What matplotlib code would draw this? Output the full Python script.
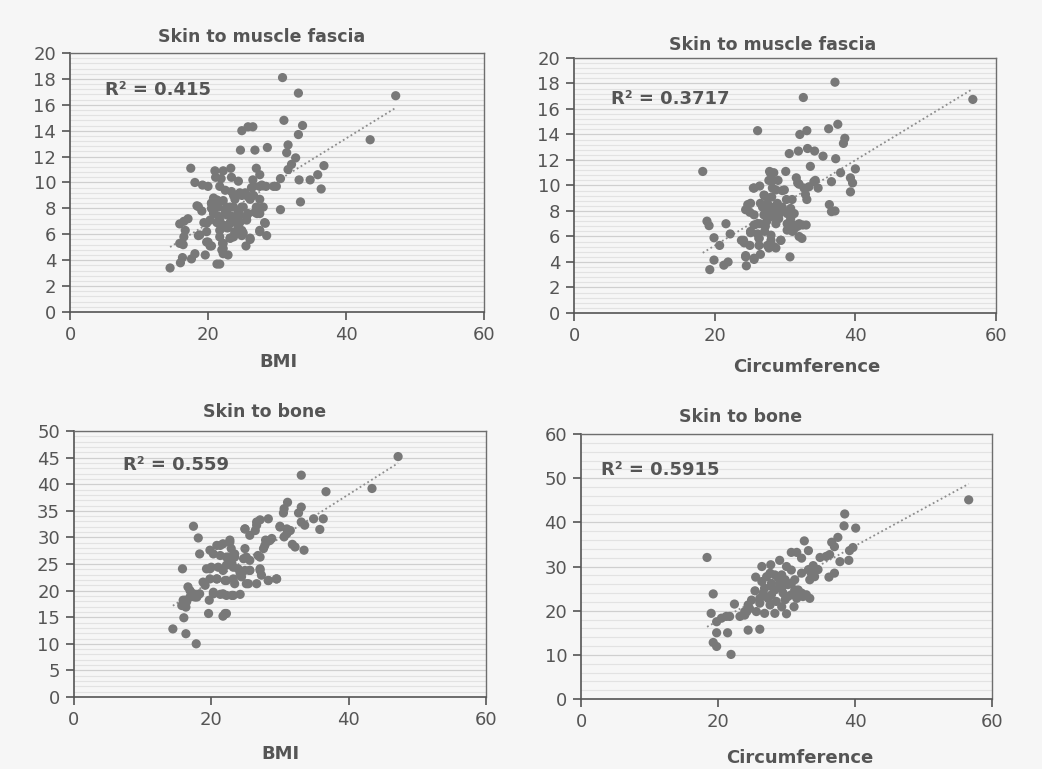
import numpy as np
import matplotlib.pyplot as plt
from matplotlib.ticker import MultipleLocator

# Skin to muscle fascia vs BMI
bmi_fascia_x = [30.8, 33.1, 47.2, 31.0, 33.7, 24.9, 25.8, 26.5, 33.1, 43.5, 24.7, 26.8, 28.6, 31.6, 31.4,
                32.7, 32.1, 31.6, 36.8, 35.9, 36.4, 34.8, 33.2, 33.4, 30.5, 30.5, 29.9, 29.5, 17.5, 18.1,
                19.2, 20.0, 21.0, 22.2, 23.3, 21.1, 23.4, 24.4, 27.0, 27.5, 26.5, 26.6, 27.5, 28.4, 21.7,
                22.5, 23.4, 24.6, 25.4, 26.0, 18.4, 19.1, 20.5, 21.5, 22.2, 22.9, 23.9, 24.9, 26.1, 27.0,
                28.0, 27.5, 26.8, 20.8, 21.5, 22.7, 23.4, 24.4, 25.6, 15.9, 16.5, 17.1, 19.4, 20.3, 21.3,
                22.2, 23.4, 24.6, 25.6, 16.7, 18.6, 19.8, 21.7, 22.7, 24.4, 25.1, 27.5, 28.2, 28.5, 16.5,
                15.9, 16.4, 19.8, 20.3, 21.7, 23.2, 23.7, 24.9, 26.1, 25.5, 22.2, 22.1, 14.5, 16.0, 16.3,
                17.6, 18.1, 19.6, 21.3, 21.7, 22.9, 22.2, 20.5, 20.8, 22.7, 23.7, 24.6, 25.8, 22.9, 23.9,
                26.6, 27.5, 21.9,
                20.8, 21.7, 22.5, 23.2, 23.7, 24.9, 25.8, 25.1, 25.6, 24.4, 23.2, 22.2, 23.9, 23.2, 24.9,
                26.1, 19.8, 18.8, 20.0, 20.5, 22.2, 22.0, 27.5, 27.1, 27.5, 28.3, 21.3, 20.5, 18.6, 26.3,
                27.8]
bmi_fascia_y = [18.1, 16.9, 16.7, 14.8, 14.4, 14.0, 14.3, 14.3, 13.7, 13.3, 12.5, 12.5, 12.7, 12.9, 12.3,
                11.9, 11.4, 11.0, 11.3, 10.6, 9.5, 10.2, 10.2, 8.5, 7.9, 10.3, 9.7, 9.7, 11.1, 10.0,
                9.8, 9.7, 10.9, 10.9, 11.1, 10.4, 10.4, 10.1, 11.1, 10.6, 10.2, 9.7, 9.7, 9.7, 9.7,
                9.4, 9.3, 9.2, 9.2, 8.9, 8.2, 7.8, 8.4, 8.1, 8.6, 8.0, 8.7, 8.1, 8.7, 8.1,
                8.1, 7.6, 7.7, 7.6, 7.4, 7.5, 7.4, 7.7, 7.4, 6.8, 7.0, 7.2, 6.9, 7.1, 6.9,
                6.7, 6.9, 6.9, 7.1, 6.3, 5.9, 6.2, 6.3, 6.5, 6.6, 6.1, 6.3, 6.9, 5.9, 5.8,
                5.3, 5.2, 5.4, 5.1, 5.8, 5.7, 5.8, 5.9, 5.6, 5.1, 4.9, 5.3, 3.4, 3.8, 4.2,
                4.1, 4.5, 4.4, 3.7, 3.7, 4.4, 4.5, 8.0, 8.8, 8.1, 8.1, 7.5, 7.6, 6.5, 6.2,
                9.0, 8.7, 10.3,
                7.75, 7.1, 7.75, 8.1, 9.0, 9.0, 8.9, 8.1, 7.4, 7.1, 6.9, 6.7, 6.1, 5.7, 6.3,
                5.7, 6.85, 5.95, 5.4, 5.1, 5.3, 4.8, 8.0, 7.6, 6.2, 6.85, 8.65, 8.4, 8.14, 9.6,
                9.8]

# Skin to muscle fascia vs circumference
circ_fascia_x = [37.1, 32.6, 56.7, 26.1, 32.1, 33.1, 36.2, 37.5, 38.5, 38.3, 30.6, 31.9, 33.2, 34.2, 35.4,
                 37.2, 33.6, 18.3, 27.8, 28.4, 30.1, 40.0, 37.9, 39.3, 39.6, 39.3, 36.6, 34.3, 31.6, 32.0,
                 33.4, 34.7, 32.9, 33.1, 27.7, 29.0, 25.5, 26.4, 28.2, 29.6, 27.1, 28.1, 30.2, 31.0, 24.7,
                 36.3, 36.6, 37.1, 24.4, 25.0, 25.6, 26.8, 27.6, 28.4, 29.6, 30.8, 27.0, 28.2, 29.2, 30.3,
                 18.9, 19.2, 21.6, 25.6, 26.4, 27.4, 28.7, 30.3, 31.3, 32.0, 33.0, 25.1, 27.1, 28.0, 30.3,
                 31.3, 32.4, 22.2, 19.9, 23.8, 26.3, 28.0, 29.4, 20.7, 24.2, 25.0, 26.3, 27.7, 28.7, 24.4,
                 25.6, 26.5, 30.7, 19.9, 19.3, 21.3, 21.9, 24.5, 27.5, 28.9, 30.8, 31.8, 26.1,
                 27.95, 28.2, 25.6, 27.0, 28.7, 29.9, 25.1, 26.5, 27.2, 28.4, 29.6, 27.95, 29.1, 26.05, 27.2,
                 30.6, 31.5, 32.5, 31.05, 32.0, 25.1, 24.1, 26.3, 27.5, 28.4, 29.4, 24.4, 25.6, 31.8, 32.7,
                 34.1, 31.3]
circ_fascia_y = [18.1, 16.9, 16.75, 14.3, 14.0, 14.3, 14.45, 14.8, 13.7, 13.3, 12.5, 12.7, 12.9, 12.7, 12.3,
                 12.1, 11.5, 11.1, 11.1, 11.0, 11.1, 11.3, 11.0, 10.6, 10.2, 9.5, 10.3, 10.4, 10.6, 10.1,
                 9.9, 9.8, 9.3, 8.9, 10.4, 10.4, 9.8, 9.96, 9.8, 9.6, 9.2, 9.1, 8.9, 8.9, 8.5,
                 8.5, 7.95, 8.0, 8.1, 7.9, 7.7, 8.3, 8.1, 8.2, 8.3, 8.2, 7.7, 7.6, 7.8, 7.8,
                 7.2, 6.85, 7.0, 6.9, 7.0, 7.2, 7.0, 7.0, 6.9, 7.0, 6.9, 6.3, 6.4, 6.1, 6.5,
                 6.6, 5.85, 6.2, 5.9, 5.7, 5.85, 5.7, 5.7, 5.3, 5.5, 5.3, 5.3, 5.1, 5.1, 4.5,
                 4.2, 4.6, 4.4, 4.15, 3.4, 3.75, 4.0, 3.7, 8.6, 8.6, 7.4, 6.8, 6.2,
                 10.96, 10.4, 9.8, 9.25, 9.65, 9.65, 8.6, 8.6, 8.1, 8.3, 8.1, 7.55, 7.4, 7.0, 6.8,
                 7.0, 6.8, 6.9, 6.4, 6.0, 6.4, 5.7, 5.85, 5.3, 5.2, 5.7, 4.4, 4.3, 10.2, 9.8,
                 10.3, 7.8]

# Skin to bone vs BMI
bmi_bone_x = [47.2, 33.1, 43.4, 36.7, 31.1, 30.6, 30.5, 33.1, 32.7, 34.9, 36.3, 35.8, 33.5, 33.6, 33.1,
              31.5, 31.0, 30.0, 30.6, 31.8, 32.2, 26.6, 27.1, 28.3, 24.9, 26.4, 25.6, 27.9, 28.8, 27.6,
              27.1, 17.4, 18.1, 18.3, 19.8, 20.8, 21.7, 22.7, 22.9, 24.9, 21.3, 22.5, 23.4, 24.7, 25.6,
              19.3, 20.0, 21.0, 22.2, 23.0, 23.9, 24.9, 25.6, 27.1, 15.8, 18.8, 19.8, 20.8, 22.0, 23.2,
              24.4, 25.4, 26.6, 27.3, 28.3, 29.5, 16.6, 17.4, 18.3, 20.3, 21.3, 22.2, 23.0, 24.2, 15.9,
              16.4, 16.9, 17.9, 19.7, 15.7, 16.3, 19.6, 21.7, 22.2, 16.0, 14.4, 16.3, 17.8,
              24.9, 26.6, 21.3, 22.7, 20.3, 22.2, 23.4, 25.1, 26.8, 27.8, 28.5, 30.0, 31.0, 19.8, 21.7,
              23.2, 24.2, 25.6, 27.1, 20.8, 22.2, 23.4, 25.1, 28.3, 29.5, 20.3, 21.7, 23.2, 16.9, 16.2,
              17.6, 19.1, 22.0]
bmi_bone_y = [45.2, 41.7, 39.2, 38.6, 36.6, 35.4, 34.6, 35.7, 34.6, 33.5, 33.5, 31.5, 27.6, 32.3, 32.9,
              31.3, 31.6, 32.1, 30.1, 28.7, 28.2, 32.9, 33.3, 33.5, 31.6, 31.3, 30.4, 29.5, 29.8, 27.9,
              26.3, 32.1, 29.9, 26.9, 27.6, 28.5, 28.8, 29.5, 27.9, 27.9, 26.6, 26.3, 26.3, 26.0, 25.7,
              24.1, 24.4, 24.4, 24.8, 25.1, 24.1, 23.8, 23.8, 24.1, 24.1, 21.6, 22.2, 22.2, 21.9, 22.2,
              22.6, 21.3, 21.3, 22.9, 21.9, 22.2, 20.7, 19.4, 19.4, 19.4, 19.3, 19.1, 19.1, 19.3, 18.2,
              17.9, 18.8, 18.8, 18.2, 17.2, 16.9, 15.7, 15.2, 15.7, 14.9, 12.8, 11.9, 10.0,
              31.6, 32.3, 28.5, 29.1, 26.9, 26.3, 26.9, 26.3, 26.6, 28.5, 29.4, 31.95, 30.7, 24.1, 23.8,
              24.4, 23.2, 23.8, 23.8, 22.2, 21.9, 21.3, 21.3, 21.9, 22.2, 19.7, 19.4, 19.1, 20.0, 18.2,
              18.8, 21.0, 15.7]

# Skin to bone vs circumference
circ_bone_x = [56.6, 38.5, 38.4, 40.1, 37.5, 32.6, 36.6, 37.0, 39.7, 39.2, 33.2, 30.7, 31.5, 32.2, 34.9,
               35.8, 36.3, 37.8, 39.1, 18.4, 29.0, 27.7, 26.4, 30.0, 30.7, 33.9, 33.2, 32.2, 36.2, 37.0,
               25.5, 27.1, 28.3, 29.3, 31.2, 26.4, 27.8, 29.0, 30.2, 31.7, 25.4, 26.8, 28.3, 29.5, 30.7,
               32.4, 33.4, 19.3, 24.9, 26.1, 27.3, 28.5, 29.8, 31.1, 22.4, 23.9, 24.6, 25.6, 26.8, 28.3,
               30.0, 19.0, 19.8, 20.5, 21.2, 21.7, 24.4, 26.1, 19.8, 21.4, 19.3, 19.8, 21.9, 23.2, 24.2,
               27.6, 28.8, 29.8, 30.7, 27.8, 29.3, 31.2, 32.2, 32.9, 26.6, 27.8, 30.2, 26.1, 27.6, 29.3,
               24.4, 23.9, 31.5, 33.4, 34.1, 34.6, 33.6]
circ_bone_y = [45.1, 41.9, 39.2, 38.7, 36.6, 35.8, 35.5, 34.5, 34.3, 33.6, 33.6, 33.2, 33.2, 31.9, 32.05,
               32.3, 32.7, 31.1, 31.4, 32.05, 31.4, 30.4, 30.0, 30.0, 29.2, 30.2, 29.3, 28.5, 27.6, 28.5,
               27.6, 27.7, 28.1, 28.1, 27.0, 26.6, 26.2, 26.2, 25.9, 24.7, 24.5, 25.1, 24.7, 24.0, 23.6,
               23.2, 22.8, 23.8, 22.4, 22.8, 22.8, 22.1, 22.5, 20.9, 21.5, 19.0, 20.5, 19.8, 19.4, 19.4,
               19.3, 19.4, 17.5, 18.3, 18.7, 18.7, 15.6, 15.8, 15.0, 15.0, 12.8, 11.9, 10.1, 18.7, 19.8,
               28.5, 27.4, 27.0, 26.2, 25.5, 25.1, 24.7, 24.0, 23.6, 24.0, 23.6, 23.2, 21.7, 21.3, 20.9,
               21.3, 19.8, 22.8, 27.0, 27.7, 29.3, 28.5]

panels = [
    (bmi_fascia_x, bmi_fascia_y, "Skin to muscle fascia", "BMI", "R² = 0.415", 20, 2),
    (circ_fascia_x, circ_fascia_y, "Skin to muscle fascia", "Circumference", "R² = 0.3717", 20, 2),
    (bmi_bone_x, bmi_bone_y, "Skin to bone", "BMI", "R² = 0.559", 50, 5),
    (circ_bone_x, circ_bone_y, "Skin to bone", "Circumference", "R² = 0.5915", 60, 10),
]

boxes = [
    [0.0672, 0.5943, 0.3973, 0.3368],
    [0.5509, 0.5930, 0.4050, 0.3316],
    [0.0710, 0.0936, 0.3954, 0.3459],
    [0.5576, 0.0910, 0.3944, 0.3446],
]
title_pos = [(262, 37), (773, 45), (265, 412), (741, 417)]
label_pos = [(278, 362), (807, 367), (280, 754), (800, 758)]
r2_pos = [(0.085, 0.857), (0.088, 0.84), (0.119, 0.872), (0.049, 0.864)]

bg = '#f6f6f6'
txt = '#555555'
dot = '#787878'

fig = plt.figure(figsize=(10.42, 7.69), dpi=100, facecolor=bg)

for i, (x, y, title, xlabel, r2, ymax, ystep) in enumerate(panels):
    ax = fig.add_axes(boxes[i], facecolor=bg)
    x = np.array(x)
    y = np.array(y)

    ax.scatter(x, y, s=44, color=dot, edgecolors='none', zorder=3)

    # linear trend line
    k, b = np.polyfit(x, y, 1)
    xs = np.array([x.min(), x.max()])
    ax.plot(xs, k * xs + b, color='#8c8c8c', lw=1.3, ls=(0, (1, 1.5)), zorder=2)

    ax.set_xlim(0, 60)
    ax.set_ylim(0, ymax)
    ax.xaxis.set_major_locator(MultipleLocator(20))
    ax.yaxis.set_major_locator(MultipleLocator(ystep))
    ax.yaxis.set_minor_locator(MultipleLocator(ystep / 5))

    ax.grid(axis='y', which='major', color='#cfcfcf', lw=0.9, zorder=0)
    ax.grid(axis='y', which='minor', color='#e2e2e2', lw=0.8, zorder=0)
    ax.set_axisbelow(True)

    ax.tick_params(which='major', length=6, width=1.2, color='#555555',
                   labelsize=13, labelcolor=txt, pad=4)
    ax.tick_params(which='minor', length=0)
    for side in ['left', 'bottom']:
        ax.spines[side].set_color('#555555')
        ax.spines[side].set_linewidth(1.2)
    for side in ['top', 'right']:
        ax.spines[side].set_color('#6e6e6e')
        ax.spines[side].set_linewidth(1.0)

    ax.text(r2_pos[i][0], r2_pos[i][1], r2, transform=ax.transAxes,
            fontsize=13, fontweight='bold', color=txt, va='center', ha='left')

    fig.text(title_pos[i][0] / 1042, 1 - title_pos[i][1] / 769, title,
             fontsize=12.5, fontweight='bold', color=txt, ha='center', va='center')
    fig.text(label_pos[i][0] / 1042, 1 - label_pos[i][1] / 769, xlabel,
             fontsize=13, fontweight='bold', color=txt, ha='center', va='center')

fig.savefig('out.png', dpi=100, facecolor=bg)
